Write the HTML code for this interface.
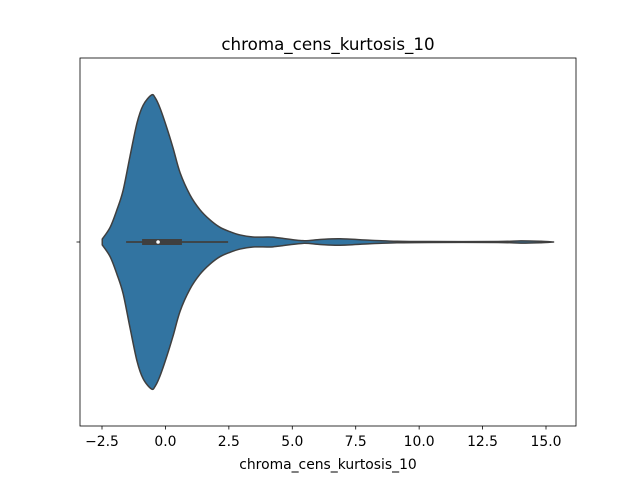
<!DOCTYPE html>
<html><head><meta charset="utf-8"><style>body{margin:0;background:#fff}svg{display:block}text{font-family:"DejaVu Sans","Liberation Sans",sans-serif;fill:#000}</style></head>
<body>
<svg id="chart" width="640" height="480">
<rect x="0" y="0" width="640" height="480" fill="#fff"/>
<text x="328" y="50" font-size="16.7" text-anchor="middle">chroma_cens_kurtosis_10</text>
<g id="plot"></g>
<rect x="80" y="58" width="496" height="368" fill="none" stroke="#000" stroke-width="0.8"/>
<text x="328" y="469" font-size="13.9" text-anchor="middle">chroma_cens_kurtosis_10</text>
</svg>
<script>
const densityX = [-2.49,-2.18,-1.91,-1.67,-1.40,-1.12,-0.88,-0.55,-0.40,-0.21,0.05,0.30,0.58,0.97,1.36,1.76,2.15,2.55,2.94,3.45,4.0,4.24,4.52,5.42,6.09,6.88,8.06,9.13,10.4,13.1,14.0,14.8,15.3];
const densityY = [0.02,0.10,0.22,0.35,0.58,0.81,0.93,1.0,0.98,0.91,0.78,0.64,0.47,0.32,0.22,0.15,0.10,0.07,0.048,0.034,0.034,0.033,0.027,0.009,0.017,0.022,0.012,0.005,0.003,0.003,0.008,0.005,0.0];
const boxStats = [-1.55,-0.92,-0.29,0.65,2.47]; // whiskerLo, q1, median, q3, whiskerHi
const xTicks = [-2.5,0,2.5,5,7.5,10,12.5,15];
const xTickLabels = ["−2.5","0.0","2.5","5.0","7.5","10.0","12.5","15.0"];

const X0=-2.5,X1=15,PX0=102,PX1=546,CY=242,MAXHW=147;
const sx=v=>PX0+(v-X0)*(PX1-PX0)/(X1-X0);
const sh=d=>d*MAXHW;
const NS="http://www.w3.org/2000/svg";
const plotG=document.getElementById('plot');
function mk(tag,attrs){const e=document.createElementNS(NS,tag);for(const k in attrs)e.setAttribute(k,attrs[k]);return e;}

function smooth(pts){
  let d=`M${pts[0][0]},${pts[0][1]}`;
  for(let i=0;i<pts.length-1;i++){
    const p0=pts[Math.max(0,i-1)],p1=pts[i],p2=pts[i+1],p3=pts[Math.min(pts.length-1,i+2)];
    const c1=[p1[0]+(p2[0]-p0[0])/6,p1[1]+(p2[1]-p0[1])/6];
    const c2=[p2[0]-(p3[0]-p1[0])/6,p2[1]-(p3[1]-p1[1])/6];
    d+=` C${c1[0]},${c1[1]} ${c2[0]},${c2[1]} ${p2[0]},${p2[1]}`;
  }
  return d;
}
const topPts=densityX.map((v,i)=>[sx(v),CY-sh(densityY[i])]);
const botPts=densityX.map((v,i)=>[sx(v),CY+sh(densityY[i])]).reverse();
let pathD=smooth(topPts);
pathD+=' L'+smooth(botPts).slice(1)+' Z';
const violin=mk('path',{d:pathD,fill:'#3274a1',stroke:'#3f3f3f','stroke-width':1.5,'stroke-linejoin':'round'});


plotG.appendChild(violin);

const wh=mk('line',{x1:sx(boxStats[0]),x2:sx(boxStats[4]),y1:CY,y2:CY,stroke:'#3f3f3f','stroke-width':1.8});


plotG.appendChild(wh);
const box=mk('rect',{x:sx(boxStats[1]),y:CY-3,width:sx(boxStats[3])-sx(boxStats[1]),height:6,fill:'#3f3f3f'});


plotG.appendChild(box);
const med=mk('circle',{cx:sx(boxStats[2]),cy:CY,r:1.8,fill:'#fff'});


plotG.appendChild(med);

xTicks.forEach((t,i)=>{
  const tk=mk('line',{x1:sx(t),x2:sx(t),y1:426,y2:429.5,stroke:'#000','stroke-width':0.8});
  
  
  plotG.appendChild(tk);
  const lb=mk('text',{x:sx(t),y:446,'font-size':13.9,'text-anchor':'middle'});
  lb.textContent=xTickLabels[i];
  
  
  plotG.appendChild(lb);
});
const yt=mk('line',{x1:76.5,x2:80,y1:CY,y2:CY,stroke:'#000','stroke-width':0.8});


plotG.appendChild(yt);
</script>
</body></html>
